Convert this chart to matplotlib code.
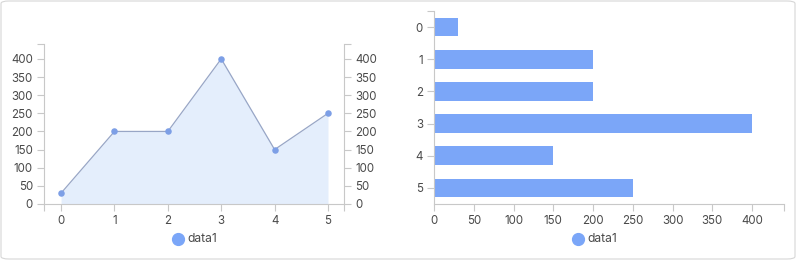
import matplotlib
matplotlib.use("Agg")
import matplotlib.pyplot as plt
from matplotlib.patches import FancyBboxPatch
from matplotlib.lines import Line2D

categories = [0, 1, 2, 3, 4, 5]
data1 = [30, 200, 200, 400, 150, 250]
value_ticks = [0, 50, 100, 150, 200, 250, 300, 350, 400]
series_name = "data1"

W, H = 796, 260
plt.rcParams['font.family'] = ['Inter', 'DejaVu Sans']

AXIS = "#c8c8c8"
TEXT = "#4a4a4a"
BAR = "#7ba6f8"
POINT = "#7d9fe6"
LINE = "#98a6c6"
FILL = "#e4eefc"
FS = 8.3

fig = plt.figure(figsize=(W / 100, H / 100), dpi=100)


def box(l, t, r, b):
    return [l / W, 1 - b / H, (r - l) / W, (b - t) / H]


def style_axis(ax):
    ax.tick_params(colors=AXIS, labelcolor=TEXT, labelsize=FS, length=5, width=0.8, pad=3)
    for s in ax.spines.values():
        s.set_color(AXIS)
        s.set_linewidth(0.8)
    ax.set_facecolor("none")


# ---- area line chart ----
ax1 = fig.add_axes(box(44, 44, 344, 204))
ax1.fill_between(categories, data1, 0, color=FILL, linewidth=0)
ax1.plot(categories, data1, color=LINE, linewidth=0.9, zorder=3)
ax1.scatter(categories, data1, s=22, color=POINT, zorder=4, linewidths=0)
ax1.set_xlim(-0.32, 5.3)
ax1.set_ylim(0, 441)
ax1.set_xticks(categories)
ax1.set_xticks([-0.32, 5.3], minor=True)
ax1.set_yticks(value_ticks)
ax1.set_yticks([441], minor=True)
ax1.spines['top'].set_visible(False)
style_axis(ax1)
ax1.tick_params(which='minor', colors=AXIS, length=5, width=0.8)
ax1.tick_params(axis='y', which='both', right=True, labelright=True)
ax1.margins(0)

# ---- horizontal bar chart ----
ax2 = fig.add_axes(box(434, 11, 784, 204))
ax2.barh(categories, data1, height=0.58, color=BAR, linewidth=0, zorder=2)
ax2.set_ylim(5.5, -0.5)
ax2.set_xlim(0, 440)
ax2.set_yticks(categories)
ax2.set_yticks([-0.5], minor=True)
ax2.set_xticks(value_ticks)
ax2.set_xticks([440], minor=True)
ax2.spines['top'].set_visible(False)
ax2.spines['right'].set_visible(False)
style_axis(ax2)
ax2.tick_params(which='minor', colors=AXIS, length=5, width=0.8)


# ---- legends ----
def legend_at(cx, cy):
    fig.add_artist(Line2D([cx / W], [1 - cy / H], marker='o', markersize=8.5,
                          color=BAR, linestyle='none', transform=fig.transFigure))
    fig.text((cx + 9) / W, 1 - cy / H, series_name, color=TEXT, fontsize=FS + 0.4,
             va='center', ha='left')


legend_at(178, 239)
legend_at(578, 239)

# outer frame
frame = FancyBboxPatch((1 / W, 1 / H), (W - 2) / W, (H - 2) / H,
                       boxstyle="round,pad=0,rounding_size=0.01",
                       transform=fig.transFigure, facecolor="none",
                       edgecolor="#d6d6d6", linewidth=0.8)
fig.add_artist(frame)

fig.savefig("out.png", dpi=100)
